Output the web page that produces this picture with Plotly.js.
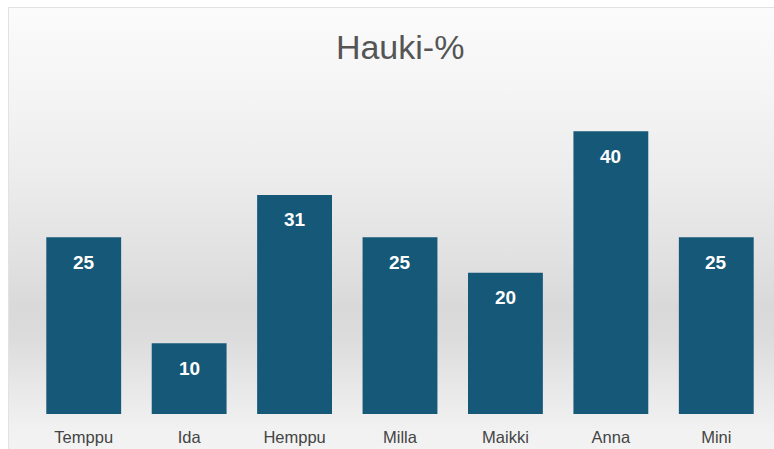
<!DOCTYPE html>
<html>
<head>
<meta charset="utf-8">
<script src="https://cdn.plot.ly/plotly-3.0.1.min.js"></script>
<style>
  html, body { margin: 0; padding: 0; background: #ffffff; }
  #frame {
    position: absolute; left: 8px; top: 7px; width: 770px; height: 446px;
    border-left: 1px solid #e2e2e2; border-top: 1px solid #e2e2e2;
    background: linear-gradient(to bottom, #fbfbfb 0px, #f5f5f5 80px, #ececec 170px, #e1e1e1 250px, #d9d9d9 300px, #dcdcdc 330px, #e8e8e8 380px, #f1f1f1 420px, #f3f3f3 446px);
  }
  #chart { position: absolute; left: 0; top: 0; width: 774px; height: 449px; }
</style>
</head>
<body>
<div id="frame"></div>
<div id="chart"></div>
<script>
const categories = ["Temppu", "Ida", "Hemppu", "Milla", "Maikki", "Anna", "Mini"];
const values = [25, 10, 31, 25, 20, 40, 25];
const titleText = "Hauki-%";

const barTrace = {
  type: "bar",
  x: categories,
  y: values,
  marker: { color: "#165878", line: { width: 0 } },
  hoverinfo: "x+y"
};

const labels = categories.map((c, i) => ({
  x: c, y: values[i], xref: "x", yref: "y",
  text: String(values[i]),
  showarrow: false,
  yanchor: "middle",
  yshift: -25,
  font: { family: "Liberation Sans, Arial, sans-serif", size: 19, color: "#ffffff", weight: "bold" }
}));

const layout = {
  width: 774, height: 449,
  margin: { l: 31, r: 5, t: 96, b: 35 },
  paper_bgcolor: "rgba(0,0,0,0)",
  plot_bgcolor: "rgba(0,0,0,0)",
  title: {
    text: titleText,
    x: 0.517, xanchor: "center",
    y: 0.895, yanchor: "middle",
    font: { family: "Liberation Sans, Arial, sans-serif", size: 34, color: "#555555" }
  },
  bargap: 0.29,
  showlegend: false,
  xaxis: {
    showgrid: false, zeroline: false, showline: false,
    ticks: "outside", ticklen: 8, tickcolor: "rgba(0,0,0,0)",
    tickfont: { family: "Liberation Sans, Arial, sans-serif", size: 16.5, color: "#444444" }
  },
  yaxis: {
    range: [0, 45], visible: false, showgrid: false, zeroline: false
  },
  annotations: labels
};

Plotly.newPlot("chart", [barTrace], layout, { displayModeBar: false, staticPlot: true });
</script>
</body>
</html>
